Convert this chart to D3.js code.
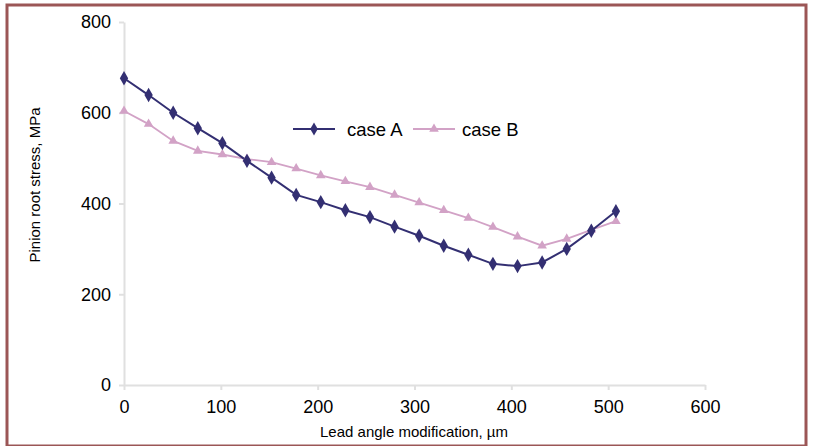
<!DOCTYPE html>
<html><head><meta charset="utf-8">
<script src="https://cdn.jsdelivr.net/npm/d3@7"></script>
<style>body{margin:0;background:#fff}svg{display:block}text{font-family:"Liberation Sans",Arial,sans-serif}</style>
</head><body><svg id="c" width="813" height="446"></svg>
<script>
const xValues = [0,25.4,50.8,76.2,101.6,127,152.4,177.8,203.2,228.6,254,279.4,304.8,330.2,355.6,381,406.4,431.8,457.2,482.6,508];
const caseA = [676,639,600,566,533,494,457,419,403,385,370,349,329,307,287,267,262,270,300,340,383];
const caseB = [604,575,538,516,508,498,491,477,462,449,436,419,402,385,368,348,327,307,322,342,361];
const seriesNames = ["case A","case B"];
const xTicks = [0,100,200,300,400,500,600];
const yTicks = [0,200,400,600,800];

const svg = d3.select("#c");
svg.append("rect").attr("x",7).attr("y",5).attr("width",799).attr("height",441)
  .attr("fill","#fff").attr("stroke","#9b5656").attr("stroke-width",3);

const x = d3.scaleLinear().domain([0,600]).range([124,705]);
const y = d3.scaleLinear().domain([0,800]).range([385,22]);

const gx = svg.append("g").attr("transform","translate(0,385)")
  .call(d3.axisBottom(x).tickValues(xTicks).tickSize(5).tickSizeOuter(0).tickPadding(10));
const gy = svg.append("g").attr("transform","translate(124,0)")
  .call(d3.axisLeft(y).tickValues(yTicks).tickSize(5).tickSizeOuter(0).tickPadding(8));
[gx,gy].forEach(g=>{
  g.selectAll("path,line").attr("stroke","#e0e0e0").attr("stroke-width",2);
  g.selectAll("text").attr("fill","#000").style("font-size","18px");
});

svg.append("text").attr("x",414).attr("y",437).attr("text-anchor","middle")
  .style("font-size","15px").text("Lead angle modification, \u00b5m");
svg.append("text").attr("transform","translate(40,185) rotate(-90)").attr("text-anchor","middle")
  .style("font-size","15px").text("Pinion root stress, MPa");

const colA = "#332f72", colB = "#d2a2c6";
const line = d3.line().x((d,i)=>x(xValues[i])).y(d=>y(d));
svg.append("path").datum(caseB).attr("d",line).attr("fill","none").attr("stroke",colB).attr("stroke-width",1.8);
svg.append("path").datum(caseA).attr("d",line).attr("fill","none").attr("stroke",colA).attr("stroke-width",2);
const tri = d3.symbol().type(d3.symbolTriangle).size(40);
svg.append("g").selectAll("path").data(caseB).join("path")
  .attr("d",tri).attr("fill",colB)
  .attr("transform",(d,i)=>`translate(${x(xValues[i])},${y(d)})`);
svg.append("g").selectAll("path").data(caseA).join("path")
  .attr("d",d3.symbol().type(d3.symbolDiamond).size(60)).attr("fill",colA)
  .attr("transform",(d,i)=>`translate(${x(xValues[i])},${y(d)})`);

// legend
const leg = [{n:seriesNames[0],c:colA,s:d3.symbol().type(d3.symbolDiamond).size(50),x0:293,tx:347},
             {n:seriesNames[1],c:colB,s:tri,x0:413,tx:462}];
leg.forEach(l=>{
  svg.append("line").attr("x1",l.x0).attr("x2",l.x0+42).attr("y1",129).attr("y2",129).attr("stroke",l.c).attr("stroke-width",2);
  svg.append("path").attr("d",l.s).attr("fill",l.c).attr("transform",`translate(${l.x0+21},129)`);
  svg.append("text").attr("x",l.tx).attr("y",136).style("font-size","18.5px").text(l.n);
});
</script></body></html>
